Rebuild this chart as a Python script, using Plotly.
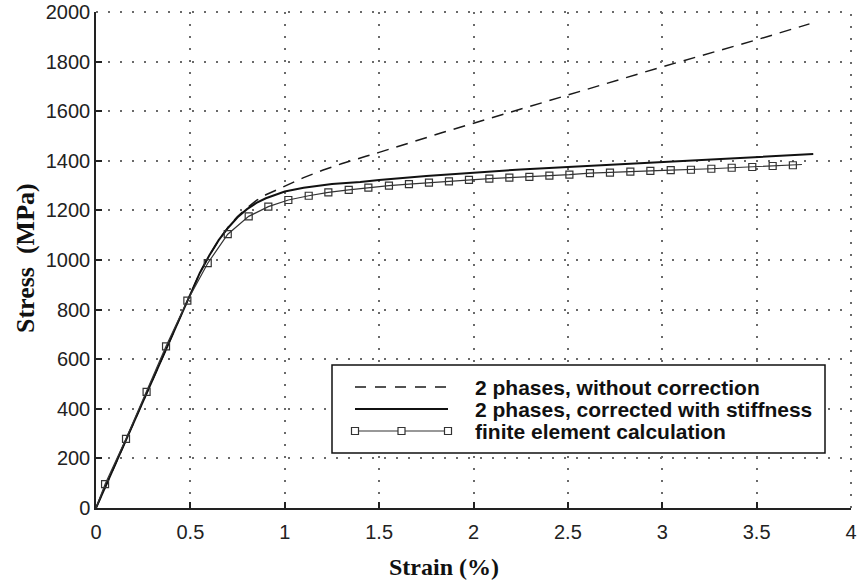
import plotly.graph_objects as go

# --- data -------------------------------------------------------------
# finite element calculation (sampled points, drawn with markers)
fe_strain = [0.048, 0.159, 0.268, 0.371, 0.484, 0.592, 0.698, 0.809, 0.913,
             1.019, 1.127, 1.231, 1.339, 1.443, 1.552, 1.658, 1.764, 1.870,
             1.976, 2.084, 2.190, 2.296, 2.402, 2.508, 2.617, 2.723, 2.831,
             2.937, 3.045, 3.152, 3.260, 3.368, 3.477, 3.585, 3.692]
fe_stress = [96, 279, 468, 652, 836, 987, 1104, 1176, 1215,
             1242, 1259, 1273, 1283, 1292, 1300, 1306, 1312, 1317,
             1323, 1328, 1332, 1335, 1340, 1344, 1350, 1352, 1356,
             1359, 1362, 1364, 1368, 1372, 1375, 1379, 1382]
# the FE curve itself starts at the origin and runs a little past the last marker
fe_line_start = (0.0, 0.0)
fe_line_end = (3.74, 1385)

# 2 phases, corrected with stiffness
corr_strain = [0, 0.2, 0.4, 0.55, 0.6, 0.65, 0.7, 0.75, 0.8, 0.85, 0.9,
               1.0, 1.1, 1.25, 1.4, 1.5, 1.75, 2.0, 2.25, 2.5, 2.75, 3.0,
               3.25, 3.5, 3.8]
corr_stress = [0, 345, 690, 948, 1018, 1080, 1130, 1172, 1205, 1230, 1249,
               1276, 1291, 1306, 1315, 1323, 1339, 1353, 1365, 1375, 1385,
               1394, 1403, 1412, 1427]

# 2 phases, without correction
raw_strain = [0, 0.2, 0.4, 0.55, 0.6, 0.65, 0.7, 0.75, 0.8, 0.85, 0.9,
              1.0, 1.1, 1.2, 1.3, 1.43, 1.5, 1.84, 2.14, 2.5, 3.0, 3.5, 3.78]
raw_stress = [0, 345, 690, 948, 1018, 1080, 1132, 1175, 1210, 1240, 1263,
              1298, 1332, 1362, 1388, 1418, 1434, 1515, 1583, 1666, 1779,
              1888, 1952]

legend_labels = ["2 phases, without correction",
                 "2 phases, corrected with stiffness",
                 "finite element calculation"]

x_ticks = [0, 0.5, 1, 1.5, 2, 2.5, 3, 3.5, 4]
x_tick_text = ["0", "0.5", "1", "1.5", "2", "2.5", "3", "3.5", "4"]
y_ticks = [0, 200, 400, 600, 800, 1000, 1200, 1400, 1600, 1800, 2000]

# --- figure -------------------------------------------------------------
W, H = 857, 584
ML, MR, MT, MB = 96, 6, 12, 76
plot_w, plot_h = W - ML - MR, H - MT - MB


def px_x(p):
    """pixel column -> paper x"""
    return (p - ML) / plot_w


def px_y(p):
    """pixel row -> paper y"""
    return (H - MB - p) / plot_h


fig = go.Figure()

fig.add_trace(go.Scatter(
    x=raw_strain, y=raw_stress, mode="lines",
    line=dict(color="#1a1a1a", width=1.5, dash="12px,8px"),
    showlegend=False, hoverinfo="skip"))

fig.add_trace(go.Scatter(
    x=corr_strain, y=corr_stress, mode="lines",
    line=dict(color="#111111", width=2),
    showlegend=False, hoverinfo="skip"))

fig.add_trace(go.Scatter(
    x=[fe_line_start[0]] + fe_strain + [fe_line_end[0]],
    y=[fe_line_start[1]] + fe_stress + [fe_line_end[1]],
    mode="lines", line=dict(color="#333333", width=1.2),
    showlegend=False, hoverinfo="skip"))

fig.add_trace(go.Scatter(
    x=fe_strain, y=fe_stress, mode="markers",
    marker=dict(symbol="square-open", size=7, color="#333333",
                line=dict(width=1.2, color="#333333")),
    showlegend=False, hoverinfo="skip"))

grid_color = "#6a6a6a"
grid_dash = "2px,10px"
tick_font = dict(family="Liberation Sans, Arial, sans-serif", size=20, color="#222222")

fig.update_xaxes(
    range=[0, 4], tickvals=x_ticks, ticktext=x_tick_text, automargin=False,
    showgrid=True, gridcolor=grid_color, gridwidth=2, griddash=grid_dash,
    zeroline=False, showline=True, linecolor="#222222", linewidth=1.5,
    ticks="inside", ticklen=6, tickwidth=1.5, tickcolor="#222222",
    ticklabelstandoff=5, tickfont=tick_font)
fig.update_yaxes(
    range=[0, 2000], tickvals=y_ticks, automargin=False,
    showgrid=True, gridcolor=grid_color, gridwidth=2, griddash=grid_dash,
    zeroline=False, showline=True, linecolor="#222222", linewidth=1.5,
    ticks="inside", ticklen=6, tickwidth=1.5, tickcolor="#222222",
    tickfont=tick_font)

shapes = []
annotations = []

# dotted grid lines along the top and right edges of the plot area
shapes.append(dict(type="line", xref="paper", yref="paper", x0=0, x1=1, y0=1, y1=1,
                   line=dict(color=grid_color, width=2, dash=grid_dash), layer="below"))
shapes.append(dict(type="line", xref="paper", yref="paper", x0=1, x1=1, y0=0, y1=1,
                   line=dict(color=grid_color, width=2, dash=grid_dash), layer="below"))

# --- legend box drawn by hand (long sample lines, three markers) ---------
box_l, box_r, box_t, box_b = 332, 825, 365, 453
shapes.append(dict(type="rect", xref="paper", yref="paper",
                   x0=px_x(box_l), x1=px_x(box_r), y0=px_y(box_b), y1=px_y(box_t),
                   line=dict(color="#111111", width=1.5), fillcolor="white",
                   layer="above"))
row_y = [387, 409, 431]
samp_l, samp_r, text_x = 355, 448, 473
shapes.append(dict(type="line", xref="paper", yref="paper",
                   x0=px_x(samp_l), x1=px_x(samp_r), y0=px_y(row_y[0]), y1=px_y(row_y[0]),
                   line=dict(color="#1a1a1a", width=1.5, dash="11px,9px"), layer="above"))
shapes.append(dict(type="line", xref="paper", yref="paper",
                   x0=px_x(samp_l), x1=px_x(samp_r), y0=px_y(row_y[1]), y1=px_y(row_y[1]),
                   line=dict(color="#111111", width=2), layer="above"))
shapes.append(dict(type="line", xref="paper", yref="paper",
                   x0=px_x(samp_l), x1=px_x(samp_r), y0=px_y(row_y[2]), y1=px_y(row_y[2]),
                   line=dict(color="#333333", width=1.2), layer="above"))
for mx in (samp_l, (samp_l + samp_r) / 2, samp_r):
    shapes.append(dict(type="rect", xref="paper", yref="paper",
                       xsizemode="pixel", ysizemode="pixel",
                       xanchor=px_x(mx), yanchor=px_y(row_y[2]),
                       x0=-3.5, x1=3.5, y0=-3.5, y1=3.5,
                       line=dict(color="#333333", width=1.2), fillcolor="white",
                       layer="above"))
for label, ry in zip(legend_labels, row_y):
    annotations.append(dict(text=label, xref="paper", yref="paper",
                            x=px_x(text_x), y=px_y(ry), xanchor="left", yanchor="middle",
                            showarrow=False,
                            font=dict(family="Liberation Sans, Arial, sans-serif",
                                      size=21, color="#111111", weight="bold")))

# axis titles
title_font = dict(family="Liberation Serif, Times New Roman, serif", size=24,
                  color="#111111", weight="bold")
annotations.append(dict(text="Strain (%)", xref="paper", yref="paper",
                        x=px_x(444), y=px_y(567), xanchor="center", yanchor="middle",
                        showarrow=False, font=title_font))
annotations.append(dict(text="Stress  (MPa)", xref="paper", yref="paper",
                        x=px_x(25), y=px_y(258), xanchor="center", yanchor="middle",
                        textangle=-90, showarrow=False,
                        font=dict(title_font, size=26)))

fig.update_layout(
    width=W, height=H,
    margin=dict(l=ML, r=MR, t=MT, b=MB),
    plot_bgcolor="white", paper_bgcolor="white",
    showlegend=False,
    shapes=shapes, annotations=annotations)

fig.write_html("out.html")
